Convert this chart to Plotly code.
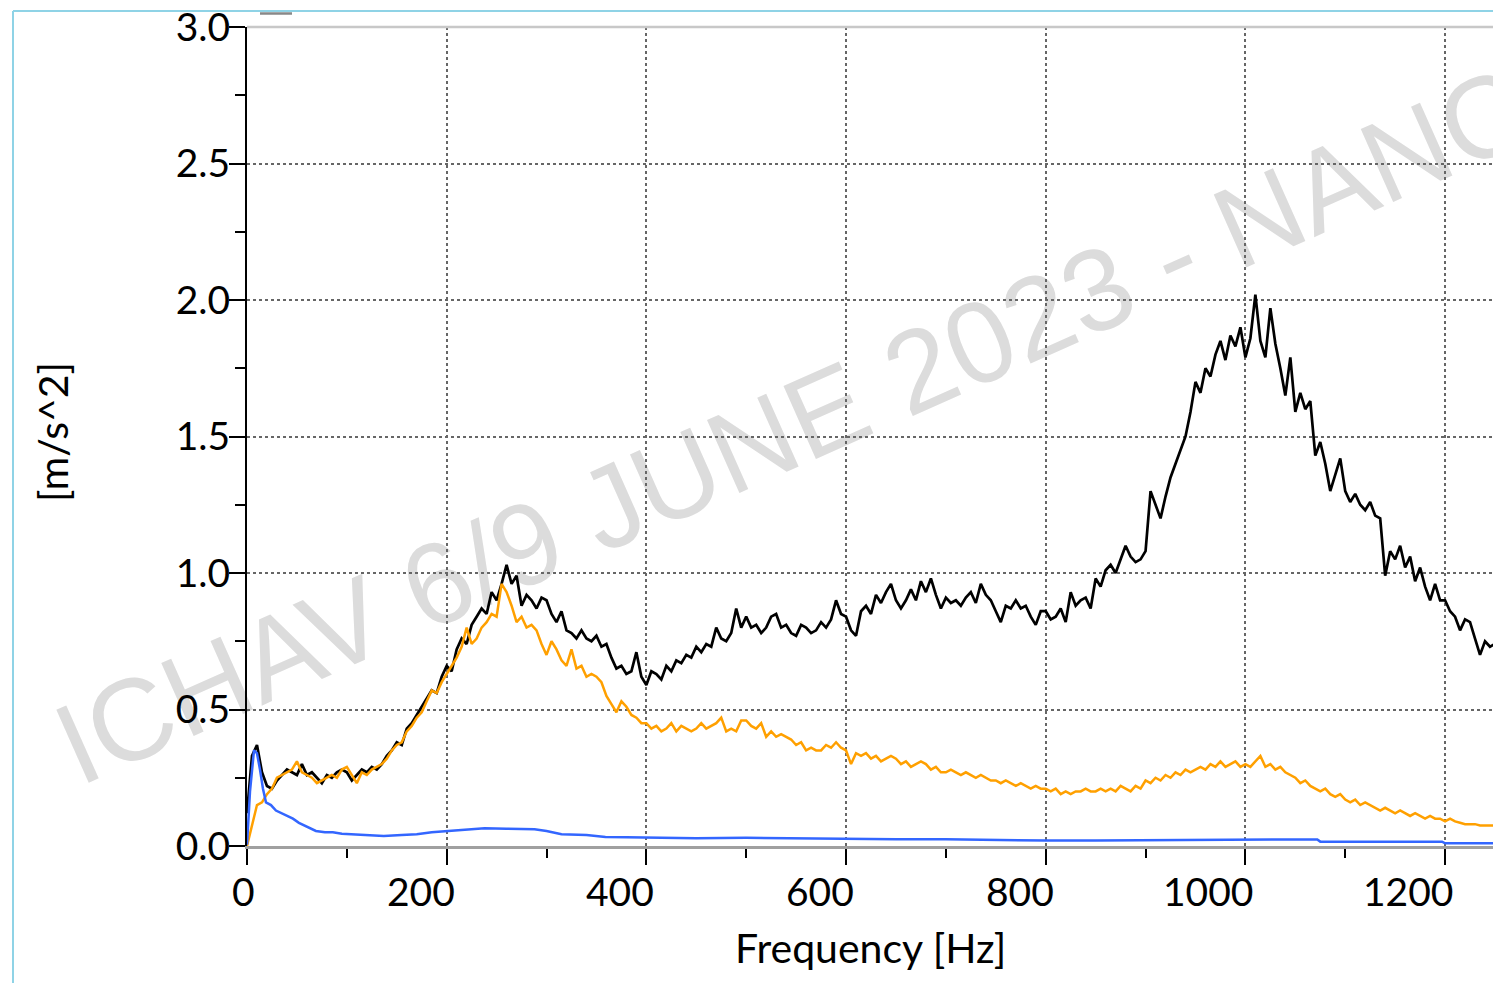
import plotly.graph_objects as go

# ---------------- data ----------------
freq_step = 5
freq = list(range(0, 1255, freq_step))  # frequency bins [Hz]

total_acc = [
    0.12, 0.33, 0.37, 0.27, 0.22, 0.21, 0.24, 0.26, 0.28, 0.27,
    0.26, 0.30, 0.26, 0.27, 0.25, 0.23, 0.26, 0.25, 0.27, 0.28,
    0.27, 0.24, 0.26, 0.28, 0.27, 0.29, 0.28, 0.30, 0.33, 0.35,
    0.38, 0.37, 0.43, 0.45, 0.48, 0.51, 0.54, 0.57, 0.56, 0.62,
    0.66, 0.64, 0.72, 0.76, 0.74, 0.81, 0.84, 0.87, 0.85, 0.93,
    0.90, 0.96, 1.03, 0.96, 0.99, 0.88, 0.92, 0.90, 0.87, 0.91,
    0.90, 0.85, 0.82, 0.86, 0.79, 0.78, 0.76, 0.79, 0.76, 0.75,
    0.77, 0.73, 0.74, 0.69, 0.65, 0.66, 0.63, 0.64, 0.71, 0.62,
    0.59, 0.64, 0.63, 0.61, 0.66, 0.64, 0.68, 0.67, 0.70, 0.69,
    0.73, 0.71, 0.74, 0.73, 0.80, 0.76, 0.75, 0.78, 0.87, 0.80,
    0.84, 0.80, 0.81, 0.78, 0.80, 0.84, 0.85, 0.80, 0.81, 0.78,
    0.77, 0.81, 0.80, 0.78, 0.79, 0.82, 0.80, 0.83, 0.90, 0.85,
    0.84, 0.79, 0.77, 0.86, 0.88, 0.85, 0.92, 0.89, 0.93, 0.96,
    0.90, 0.87, 0.90, 0.94, 0.90, 0.97, 0.93, 0.98, 0.92, 0.87,
    0.91, 0.89, 0.90, 0.88, 0.91, 0.93, 0.89, 0.96, 0.92, 0.90,
    0.86, 0.82, 0.88, 0.87, 0.90, 0.87, 0.88, 0.84, 0.81, 0.86,
    0.86, 0.83, 0.84, 0.87, 0.82, 0.93, 0.88, 0.90, 0.91, 0.87,
    0.98, 0.95, 1.01, 1.03, 1.00, 1.05, 1.10, 1.06, 1.04, 1.05,
    1.08, 1.30, 1.25, 1.20, 1.28, 1.35, 1.40, 1.45, 1.50, 1.59,
    1.70, 1.66, 1.75, 1.72, 1.80, 1.85, 1.78, 1.87, 1.83, 1.90,
    1.79, 1.86, 2.02, 1.85, 1.79, 1.97, 1.84, 1.75, 1.65, 1.79,
    1.59, 1.66, 1.60, 1.63, 1.43, 1.48, 1.40, 1.30, 1.36, 1.42,
    1.30, 1.26, 1.29, 1.25, 1.23, 1.26, 1.21, 1.20, 0.99, 1.08,
    1.05, 1.10, 1.02, 1.06, 0.97, 1.02, 0.95, 0.90, 0.96, 0.90,
    0.90, 0.86, 0.84, 0.79, 0.83, 0.82, 0.76, 0.70, 0.75, 0.73,
    0.74,
]

orange_acc = [
    0.00, 0.07, 0.15, 0.16, 0.19, 0.21, 0.25, 0.26, 0.27, 0.28,
    0.31, 0.27, 0.26, 0.25, 0.23, 0.24, 0.25, 0.26, 0.25, 0.28,
    0.29, 0.26, 0.23, 0.27, 0.26, 0.28, 0.29, 0.30, 0.32, 0.35,
    0.37, 0.38, 0.42, 0.44, 0.47, 0.49, 0.53, 0.57, 0.56, 0.60,
    0.63, 0.66, 0.69, 0.73, 0.80, 0.74, 0.76, 0.80, 0.82, 0.85,
    0.84, 0.96, 0.93, 0.88, 0.82, 0.84, 0.80, 0.81, 0.79, 0.74,
    0.70, 0.75, 0.72, 0.68, 0.66, 0.72, 0.65, 0.66, 0.62, 0.63,
    0.62, 0.60, 0.55, 0.52, 0.49, 0.53, 0.51, 0.48, 0.47, 0.45,
    0.45, 0.43, 0.44, 0.42, 0.43, 0.45, 0.42, 0.44, 0.43, 0.42,
    0.43, 0.45, 0.43, 0.44, 0.45, 0.47, 0.42, 0.43, 0.42, 0.46,
    0.46, 0.44, 0.43, 0.45, 0.40, 0.42, 0.40, 0.41, 0.40, 0.39,
    0.37, 0.38, 0.35, 0.36, 0.35, 0.35, 0.37, 0.36, 0.38, 0.36,
    0.35, 0.30, 0.34, 0.33, 0.34, 0.32, 0.33, 0.31, 0.32, 0.33,
    0.32, 0.30, 0.31, 0.29, 0.30, 0.31, 0.30, 0.28, 0.29, 0.27,
    0.27, 0.28, 0.27, 0.26, 0.27, 0.26, 0.25, 0.26, 0.25, 0.24,
    0.24, 0.23, 0.24, 0.23, 0.22, 0.23, 0.22, 0.21, 0.22, 0.21,
    0.21, 0.20, 0.21, 0.19, 0.20, 0.19, 0.20, 0.20, 0.21, 0.20,
    0.20, 0.21, 0.20, 0.21, 0.20, 0.22, 0.21, 0.20, 0.22, 0.21,
    0.24, 0.23, 0.25, 0.24, 0.26, 0.25, 0.27, 0.26, 0.28, 0.27,
    0.28, 0.29, 0.28, 0.30, 0.29, 0.31, 0.29, 0.30, 0.31, 0.29,
    0.30, 0.29, 0.31, 0.33, 0.29, 0.30, 0.28, 0.29, 0.27, 0.26,
    0.25, 0.23, 0.24, 0.22, 0.21, 0.20, 0.21, 0.19, 0.18, 0.19,
    0.17, 0.16, 0.17, 0.15, 0.16, 0.15, 0.14, 0.13, 0.14, 0.13,
    0.12, 0.13, 0.12, 0.11, 0.12, 0.11, 0.10, 0.11, 0.10, 0.10,
    0.09, 0.10, 0.09, 0.085, 0.08, 0.08, 0.08, 0.075, 0.075, 0.075,
    0.075,
]

blue_freq = [0, 3, 7, 10, 13, 16, 19, 24, 29, 35, 40, 46, 52, 60, 69, 78,
             86, 95, 103, 120, 137, 155, 170, 185, 200, 215, 238, 260, 288,
             300, 315, 340, 359, 380, 403, 450, 500, 550, 590, 600, 650, 700,
             750, 800, 850, 900, 950, 980, 1000, 1030, 1072, 1075, 1150,
             1197, 1200, 1250]
blue_acc = [0.005, 0.20, 0.35, 0.34, 0.28, 0.21, 0.16, 0.15, 0.13, 0.12, 0.11,
            0.10, 0.085, 0.07, 0.055, 0.05, 0.05, 0.045, 0.043, 0.04, 0.037,
            0.04, 0.043, 0.05, 0.055, 0.058, 0.065, 0.063, 0.061, 0.055,
            0.043, 0.04, 0.033, 0.032, 0.030, 0.028, 0.030, 0.028, 0.028,
            0.025, 0.025, 0.025, 0.022, 0.020, 0.020, 0.021, 0.022, 0.025,
            0.024, 0.024, 0.024, 0.016, 0.016, 0.016, 0.010, 0.010]

x_tick_vals = [0, 200, 400, 600, 800, 1000, 1200]
x_tick_text = ["0", "200", "400", "600", "800", "1000", "1200"]
x_range = [0, 1250]
y_range = [0, 3]
x_title = "Frequency [Hz]"
y_title = "[m/s^2]"
watermark = "ICHAV 6/9 JUNE 2023 - NANCY"

# ---------------- figure ----------------
W, H = 1501, 983
OFF = 8  # page body margin
L, R, T, B = 239, 14, 19, 145
pw, ph = W - L - R, H - T - B


def px(xs):
    """screen x -> paper x"""
    return (xs - OFF - L) / pw


def py(ys):
    """screen y -> paper y"""
    return (H - B - (ys - OFF)) / ph


FONT = "Lato"
TICK_SIZE = 39
TITLE_SIZE = 41

fig = go.Figure()
fig.add_trace(go.Scatter(x=freq, y=total_acc, mode="lines",
                         line=dict(color="#000000", width=2.7), showlegend=False))
fig.add_trace(go.Scatter(x=freq, y=orange_acc, mode="lines",
                         line=dict(color="#ffa000", width=2.5), showlegend=False))
fig.add_trace(go.Scatter(x=blue_freq, y=blue_acc, mode="lines",
                         line=dict(color="#3366ff", width=2.5), showlegend=False))
# invisible trace for right-side tick axis
fig.add_trace(go.Scatter(x=[0], y=[0], yaxis="y2", mode="markers",
                         marker=dict(opacity=0), showlegend=False, hoverinfo="skip"))

fig.update_layout(
    width=W, height=H,
    margin=dict(l=L, r=R, t=T, b=B, autoexpand=False),
    paper_bgcolor="white", plot_bgcolor="rgba(0,0,0,0)",
    font=dict(family=FONT, color="black", size=TICK_SIZE),
    xaxis=dict(
        range=x_range, tickvals=x_tick_vals, showgrid=True,
        showticklabels=False, automargin=False,
        gridcolor="#666666", griddash="dot", gridwidth=1.5,
        ticks="outside", ticklen=16, tickwidth=2, tickcolor="black",
        showline=True, linecolor="#a0a0a0", linewidth=3,
        zeroline=False,
        minor=dict(dtick=100, tick0=0, ticks="outside", ticklen=9,
                   tickwidth=2, tickcolor="black", showgrid=False),
    ),
    yaxis=dict(
        range=y_range, dtick=0.5, tick0=0, tickformat=".1f", showgrid=True,
        gridcolor="#666666", griddash="dot", gridwidth=1.5,
        ticks="outside", ticklen=16, tickwidth=2, tickcolor="black",
        showline=True, linecolor="black", linewidth=2, automargin=False,
        zeroline=False, ticklabelstandoff=-9, ticklabeloverflow="allow",
        tickfont=dict(family=FONT, size=TICK_SIZE, color="black"),
        minor=dict(dtick=0.25, tick0=0, ticks="outside", ticklen=10,
                   tickwidth=2, tickcolor="black", showgrid=False),
    ),
    yaxis2=dict(
        range=y_range, overlaying="y", side="right", dtick=0.5, tick0=0,
        showgrid=False, showticklabels=False, zeroline=False, automargin=False,
        ticks="outside", ticklen=8, tickwidth=2, tickcolor="black",
        showline=False,
        minor=dict(dtick=0.25, ticks="outside", ticklen=5, tickwidth=2,
                   tickcolor="black"),
    ),
)

shapes = []
# watermark (below grid and traces)
cx, cy = 823, 400
shapes.append(dict(
    type="rect", xref="paper", yref="paper", layer="below",
    x0=px(cx - 5), x1=px(cx + 5), y0=py(cy + 5), y1=py(cy - 5),
    line=dict(width=0), fillcolor="rgba(0,0,0,0)",
    label=dict(text=watermark, textangle=-24, textposition="middle center",
               font=dict(family="Liberation Sans", size=116, color="#dcdcdc")),
))
# top and right plot border (light gray)
shapes.append(dict(type="line", xref="paper", yref="paper", x0=0, x1=1, y0=1, y1=1,
                   line=dict(color="#c8c8c8", width=2.5)))
shapes.append(dict(type="line", xref="paper", yref="paper", x0=1, x1=1, y0=0, y1=1,
                   line=dict(color="#c8c8c8", width=2.5)))
# outer light-blue frame
shapes.append(dict(type="line", xref="paper", yref="paper",
                   x0=px(13), x1=px(13), y0=py(11), y1=py(995),
                   line=dict(color="#8fd3e6", width=2)))
shapes.append(dict(type="line", xref="paper", yref="paper",
                   x0=px(13), x1=px(1515), y0=py(11), y1=py(11),
                   line=dict(color="#8fd3e6", width=2)))
# small gray legend remnant
shapes.append(dict(type="line", xref="paper", yref="paper",
                   x0=px(260), x1=px(292), y0=py(13.5), y1=py(13.5),
                   line=dict(color="#888888", width=2.5)))
fig.update_layout(shapes=shapes)

# x tick labels: right-aligned a few px right of each tick (as in the reference)
for v, t in zip(x_tick_vals, x_tick_text):
    fig.add_annotation(text=t, xref="x", yref="paper", x=v, y=py(891),
                       xanchor="right", yanchor="middle", xshift=10,
                       showarrow=False,
                       font=dict(family=FONT, size=TICK_SIZE, color="black"))

fig.add_annotation(text=x_title, xref="paper", yref="paper",
                   x=px(870), y=py(947), showarrow=False,
                   xanchor="center", yanchor="middle",
                   font=dict(family=FONT, size=TITLE_SIZE, color="black"))
fig.add_annotation(text=y_title, xref="paper", yref="paper",
                   x=px(52), y=py(432), showarrow=False, textangle=-90,
                   xanchor="center", yanchor="middle",
                   font=dict(family=FONT, size=TITLE_SIZE, color="black"))

fig.write_html("out.html")
